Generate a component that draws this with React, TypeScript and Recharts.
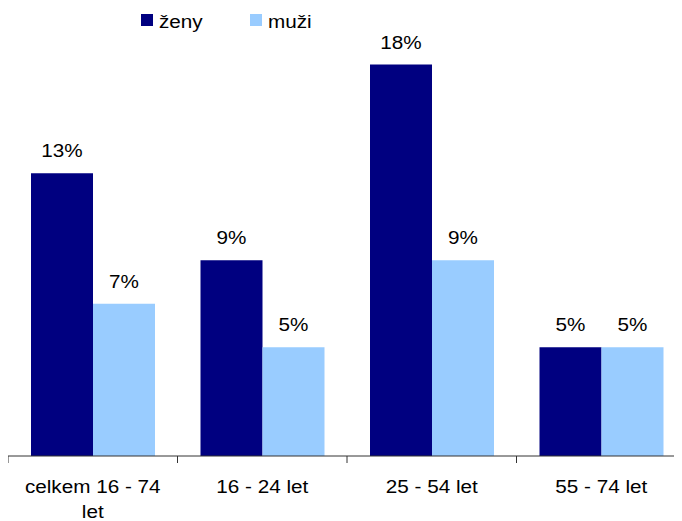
import React from "react";
import { BarChart, Bar, XAxis, YAxis, LabelList } from "recharts";

const categories = ["celkem 16 - 74 let", "16 - 24 let", "25 - 54 let", "55 - 74 let"];
const zeny = [13, 9, 18, 5];
const muzi = [7, 5, 9, 5];
const seriesNames = ["ženy", "muži"];
const colors = ["#000080", "#99CCFF"];

const data = categories.map((c, i) => ({ cat: c, zeny: zeny[i], muzi: muzi[i] }));

const CHART_W = 678;
const CHART_H = 513;
const PLOT_H = 435;
const M = { top: 13, right: 0, bottom: 0, left: 0 };
const BAND = (CHART_W - M.left - M.right) / categories.length;
const FONT = "'Liberation Sans', Arial, sans-serif";
const SX = 1.09;
const FS = 19;

const lines: Record<string, string[]> = {
  "celkem 16 - 74 let": ["celkem 16 - 74", "let"],
};

const Tick = (props: any) => {
  const { x, y, payload, index } = props;
  const ls = lines[payload.value] || [payload.value];
  const axisY = y - 8;
  return (
    <g>
      <line x1={x - BAND / 2} x2={x - BAND / 2} y1={axisY} y2={axisY + 7} stroke="#333" />
      {index === categories.length - 1 && (
        <line x1={x + BAND / 2} x2={x + BAND / 2} y1={axisY} y2={axisY + 7} stroke="#333" />
      )}
      {ls.map((l, i) => (
        <text
          key={i}
          transform={`translate(${x},${axisY + 37 + i * 25}) scale(${SX},1)`}
          textAnchor="middle"
          fontFamily={FONT}
          fontSize={FS}
          fill="#000"
        >
          {l}
        </text>
      ))}
    </g>
  );
};

const ValLabel = (props: any) => {
  const { x, y, width, value } = props;
  return (
    <text
      transform={`translate(${x + width / 2},${y - 16}) scale(${SX},1)`}
      textAnchor="middle"
      fontFamily={FONT}
      fontSize={FS}
      fill="#000"
    >
      {value}%
    </text>
  );
};

const LegendOverlay = () => {
  const xs = [133, 242];
  return (
    <svg width={400} height={30} style={{ display: "block", position: "absolute", top: 0, left: 0 }}>
      {seriesNames.map((n, i) => (
        <g key={n}>
          <rect x={xs[i]} y={6} width={12} height={12} fill={colors[i]} />
          <text
            transform={`translate(${xs[i] + 18},20) scale(${SX},1)`}
            fontFamily={FONT}
            fontSize={FS}
            fill="#000"
          >
            {n}
          </text>
        </g>
      ))}
    </svg>
  );
};

export default function App() {
  return (
    <div style={{ width: 674, height: 513, overflow: "hidden", position: "relative" }}>
      <BarChart width={CHART_W} height={CHART_H} data={data} margin={M} barCategoryGap={23} barGap={0}>
        <XAxis
          dataKey="cat"
          height={CHART_H - M.top - PLOT_H}
          axisLine={{ stroke: "#333" }}
          tickLine={false}
          tick={<Tick />}
          interval={0}
        />
        <YAxis hide domain={[0, 20]} />
        <Bar dataKey="zeny" name={seriesNames[0]} fill={colors[0]} isAnimationActive={false}>
          <LabelList dataKey="zeny" content={<ValLabel />} />
        </Bar>
        <Bar dataKey="muzi" name={seriesNames[1]} fill={colors[1]} isAnimationActive={false}>
          <LabelList dataKey="muzi" content={<ValLabel />} />
        </Bar>
      </BarChart>
      <LegendOverlay />
    </div>
  );
}
